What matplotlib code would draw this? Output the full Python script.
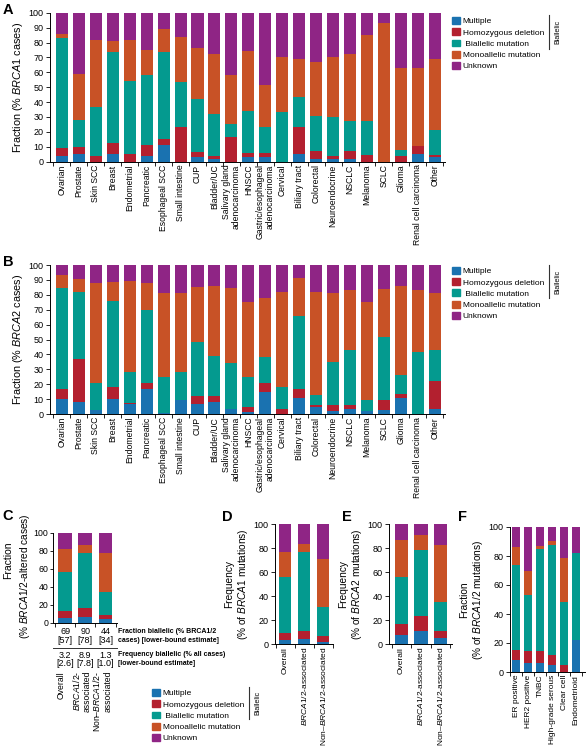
import numpy as np
import matplotlib
matplotlib.use('Agg')
import matplotlib.pyplot as plt
from matplotlib.patches import Patch
from matplotlib.lines import Line2D
from matplotlib import transforms

plt.rcParams['font.family'] = ['Liberation Sans', 'DejaVu Sans']
plt.rcParams['mathtext.fontset'] = 'custom'
plt.rcParams['mathtext.it'] = 'Liberation Sans:italic'
plt.rcParams['mathtext.rm'] = 'Liberation Sans'
plt.rcParams['axes.linewidth'] = 0.7

# ---- data ----
legend_labels = ['Multiple', 'Homozygous deletion', ' Biallelic mutation',
                 'Monoallelic mutation', 'Unknown']
colors = ['#1a72b0', '#b3202f', '#049a8f', '#c85226', '#8f2585']

tumors = ['Ovarian', 'Prostate', 'Skin SCC', 'Breast', 'Endometrial', 'Pancreatic',
          'Esophageal SCC', 'Small intestine', 'CUP', 'Bladder/UC',
          'Salivary gland\nadenocarcinoma', 'HNSCC',
          'Gastric/esophageal\nadenocarcinoma', 'Cervical', 'Biliary tract',
          'Colorectal', 'Neuroendocrine', 'NSCLC', 'Melanoma', 'SCLC', 'Glioma',
          'Renal cell carcinoma', 'Other']

# panel A, BRCA1
a_multiple = [4, 5, 0, 5, 0, 4, 11, 0, 3, 1.5, 0, 3, 3, 0, 5, 2, 2, 2, 0, 0, 0, 5, 3]
a_homdel = [5.5, 5, 4, 7.5, 5, 7, 4.5, 23, 3.5, 2, 16.5, 3, 3, 0, 18, 5, 2, 5, 4.5, 0, 3.5, 5.5, 1.5]
a_biallelic = [73.5, 18, 32.5, 61, 49, 47.5, 58, 30.5, 35.5, 28.5, 8.5, 28, 17, 33.5, 20.5, 24, 26, 20, 22.5, 0, 4.5, 0, 17]
a_mono = [3, 31, 45.5, 7.5, 28, 16.5, 15.5, 30.5, 34, 40.5, 33.5, 40, 28.5, 37, 25.5, 36, 40, 45, 58, 93, 55, 52.5, 47.5]
a_unknown = [14, 41, 18, 19, 18, 25, 11, 16, 24, 27.5, 41.5, 26, 48.5, 29.5, 31, 33, 30, 28, 15, 7, 37, 37, 31]

# panel B, BRCA2
b_multiple = [10, 8, 3, 10, 6.5, 16.5, 0.5, 9.5, 7, 8, 3.5, 1.5, 15, 0, 11, 5, 2, 3.5, 2, 2.5, 11, 0, 3.5]
b_homdel = [7, 29, 0, 8, 1, 4, 0, 0, 5, 4, 0, 3, 5.5, 3.5, 6, 1, 4, 2.5, 0, 7, 2.5, 0, 18.5]
b_biallelic = [67.5, 45, 17.5, 58, 21, 49, 24.5, 19, 36.5, 27, 30.5, 20, 17.5, 14.5, 49, 7, 29, 37, 7.5, 42, 12.5, 41.5, 21]
b_mono = [8.5, 8.5, 67.5, 12.5, 60.5, 18.5, 56.5, 52.5, 36.5, 47, 50.5, 50.5, 40, 64, 25, 69, 46.5, 40, 66, 32.5, 60, 41.5, 38]
b_unknown = [7, 9.5, 12, 11.5, 11, 12, 18.5, 19, 15, 14, 15.5, 25, 22, 18, 9, 18, 18.5, 17, 24.5, 16, 14, 17, 19]

# panel C, BRCA1/2-altered cases
groups_c = ['Overall', '$\\mathit{BRCA1/2}$-\nassociated', 'Non–$\\mathit{BRCA1/2}$-\nassociated']
c_multiple = [6, 7, 4]
c_homdel = [7.5, 9.5, 5]
c_biallelic = [43.5, 61.5, 25]
c_mono = [25, 8.5, 44]
c_unknown = [18, 13.5, 22]
frac_biallelic = ['69', '90', '44']
frac_biallelic_lb = ['[57]', '[78]', '[34]']
freq_biallelic = ['3.2', '8.9', '1.3']
freq_biallelic_lb = ['[2.6]', '[7.8]', '[1.0]']

groups_de = ['Overall', '$\\mathit{BRCA1/2}$-associated', 'Non–$\\mathit{BRCA1/2}$-associated']
# panel D, BRCA1 mutations
d_multiple = [3.5, 4.5, 2]
d_homdel = [5.5, 6.5, 5]
d_biallelic = [47, 65.5, 24]
d_mono = [21, 6.5, 40]
d_unknown = [23, 17, 29]
# panel E, BRCA2 mutations
e_multiple = [7.5, 11, 5]
e_homdel = [9, 12, 5.5]
e_biallelic = [39, 55, 24.5]
e_mono = [31, 13, 47.5]
e_unknown = [13.5, 9, 17.5]

# panel F, subtypes
subtypes = ['ER positive', 'HER2 positive', 'TNBC', 'High-grade serous', 'Clear cell', 'Endometrioid']
f_multiple = [8, 6.5, 6.5, 4.5, 0, 22]
f_homdel = [7.5, 8, 8, 7.5, 4.5, 0]
f_biallelic = [58.5, 38.5, 70, 75.5, 43.5, 60]
f_mono = [12, 17, 2.5, 3, 30.5, 0]
f_unknown = [14, 30, 13, 9.5, 21.5, 18]

# ---- drawing ----
W, H = 587, 750
fig = plt.figure(figsize=(W / 100, H / 100), dpi=100)


def px_axes(x0, y0, x1, y1):
    return fig.add_axes([x0 / W, 1 - y1 / H, (x1 - x0) / W, (y1 - y0) / H])


def stack(ax, segs, width):
    n = len(segs[0])
    x = np.arange(n)
    bottom = np.zeros(n)
    for vals, col in zip(segs, colors):
        vals = np.array(vals, float)
        ax.bar(x, vals, width, bottom=bottom, color=col, linewidth=0)
        bottom += vals
    return x


def style(ax, n, left, right, ystep, fs=6.5):
    ax.set_ylim(0, 100)
    ax.set_xlim(left, right)
    ax.set_yticks(np.arange(0, 101, ystep))
    ax.spines[['top', 'right']].set_visible(False)
    ax.set_xticks(np.arange(n + 1) - 0.5, minor=True)
    ax.tick_params(axis='x', which='major', length=0, pad=2)
    ax.tick_params(axis='x', which='minor', length=3, width=0.6)
    ax.tick_params(axis='y', length=3, width=0.6, labelsize=fs, pad=1.5)


def legend_at(x, y, line_y0, line_y1):
    handles = [Patch(color=c, label=l) for c, l in zip(colors, legend_labels)]
    fig.legend(handles=handles, loc='upper left', bbox_to_anchor=(x / W, 1 - y / H),
               frameon=False, fontsize=6, handlelength=0.9, handleheight=0.9,
               handletextpad=0.4, labelspacing=0.35, borderpad=0, borderaxespad=0)
    lx = x + 97
    fig.add_artist(Line2D([lx / W, lx / W], [1 - line_y0 / H, 1 - line_y1 / H],
                          transform=fig.transFigure, color='#333333', lw=0.8))
    fig.text((lx + 9) / W, 1 - (line_y0 + line_y1) / 2 / H, 'Biallelic', rotation=90,
             ha='center', va='center', fontsize=5)


# A
axA = px_axes(50, 12.7, 445, 161.7)
x = stack(axA, [a_multiple, a_homdel, a_biallelic, a_mono, a_unknown], 0.71)
style(axA, len(tumors), -0.7, 22.6, 10)
axA.set_xticks(x)
axA.set_xticklabels(tumors, rotation=90, fontsize=6.2, ha='center', va='top', multialignment='right')
axA.set_ylabel('Fraction (% $\\mathit{BRCA1}$ cases)', fontsize=7.8, labelpad=3)
legend_at(452, 17, 15, 49)
fig.text(3 / W, 1 - 3 / H, 'A', fontsize=10.5, weight='bold', va='top')

# B
axB = px_axes(50, 265, 445, 414)
x = stack(axB, [b_multiple, b_homdel, b_biallelic, b_mono, b_unknown], 0.71)
style(axB, len(tumors), -0.7, 22.6, 10)
axB.set_xticks(x)
axB.set_xticklabels(tumors, rotation=90, fontsize=6.2, ha='center', va='top', multialignment='right')
axB.set_ylabel('Fraction (% $\\mathit{BRCA2}$ cases)', fontsize=7.8, labelpad=3)
legend_at(452, 267, 265, 298)
fig.text(3 / W, 1 - 255 / H, 'B', fontsize=10.5, weight='bold', va='top')

# C
axC = px_axes(53, 533, 117, 623)
x = stack(axC, [c_multiple, c_homdel, c_biallelic, c_mono, c_unknown], 0.69)
style(axC, 3, -0.6, 2.57, 20, fs=6.3)
axC.tick_params(axis='y', length=2.5, pad=1)
axC.set_xticks(x)
axC.set_xticklabels([])
axC.text(-45 / 64, 0.7, 'Fraction', transform=axC.transAxes, rotation=90,
         ha='center', va='center', fontsize=7.5)
axC.text(-28 / 64, 0.52, '(% $\\mathit{BRCA1/2}$-altered cases)', transform=axC.transAxes,
         rotation=90, ha='center', va='center', fontsize=7.3)
tr = transforms.blended_transform_factory(axC.transData, fig.transFigure)
for i in range(3):
    axC.text(i, 1 - 632 / H, frac_biallelic[i], transform=tr, ha='center', va='center', fontsize=6.5)
    axC.text(i, 1 - 640.5 / H, frac_biallelic_lb[i], transform=tr, ha='center', va='center', fontsize=6.5)
    axC.text(i, 1 - 655 / H, freq_biallelic[i], transform=tr, ha='center', va='center', fontsize=6.5)
    axC.text(i, 1 - 663.5 / H, freq_biallelic_lb[i], transform=tr, ha='center', va='center', fontsize=6.5)
    axC.text(i - 0.2, 1 - 671 / H, groups_c[i], transform=tr, rotation=90, ha='center', va='top',
             multialignment='right', fontsize=6.2)
fig.add_artist(Line2D([53 / W, 117 / W], [1 - 648 / H, 1 - 648 / H], transform=fig.transFigure,
                      color='#333333', lw=0.7))
fig.text(118 / W, 1 - 636 / H, 'Fraction biallelic (% BRCA1/2\ncases) [lower-bound estimate]',
         fontsize=5, weight='bold', va='center', ha='left', linespacing=1.3)
fig.text(118 / W, 1 - 659 / H, 'Frequency biallelic (% all cases)\n[lower-bound estimate]',
         fontsize=5, weight='bold', va='center', ha='left', linespacing=1.3)
legend_at(152, 689, 687, 719)
fig.text(2 / W, 1 - 509 / H, 'C', fontsize=10.5, weight='bold', va='top')

# D
axD = px_axes(275, 524, 333, 644)
x = stack(axD, [d_multiple, d_homdel, d_biallelic, d_mono, d_unknown], 0.63)
style(axD, 3, -0.53, 2.5, 20)
axD.set_xticks(x)
axD.set_xticklabels(groups_de, rotation=90, fontsize=6)
axD.set_ylabel('Frequency\n(% of $\\mathit{BRCA1}$ mutations)', fontsize=7.3, labelpad=3, linespacing=1.15)
fig.text(222 / W, 1 - 510 / H, 'D', fontsize=10.5, weight='bold', va='top')

# E
axE = px_axes(389, 524, 452, 644)
x = stack(axE, [e_multiple, e_homdel, e_biallelic, e_mono, e_unknown], 0.67)
style(axE, 3, -0.64, 2.59, 20)
axE.set_xticks(x)
axE.set_xticklabels(groups_de, rotation=90, fontsize=6)
axE.set_ylabel('Frequency\n(% of $\\mathit{BRCA2}$ mutations)', fontsize=7.3, labelpad=3, linespacing=1.15)
fig.text(342 / W, 1 - 510 / H, 'E', fontsize=10.5, weight='bold', va='top')

# F
axF = px_axes(510, 527, 585, 672)
x = stack(axF, [f_multiple, f_homdel, f_biallelic, f_mono, f_unknown], 0.72)
style(axF, 6, -0.45, 5.74, 20)
axF.set_xticks(x)
axF.set_xticklabels(subtypes, rotation=90, fontsize=6)
axF.set_ylabel('Fraction\n(% of $\\mathit{BRCA1/2}$ mutations)', fontsize=7.3, labelpad=3, linespacing=1.1)
fig.text(458 / W, 1 - 510 / H, 'F', fontsize=10.5, weight='bold', va='top')

fig.savefig('out.png', dpi=100)
